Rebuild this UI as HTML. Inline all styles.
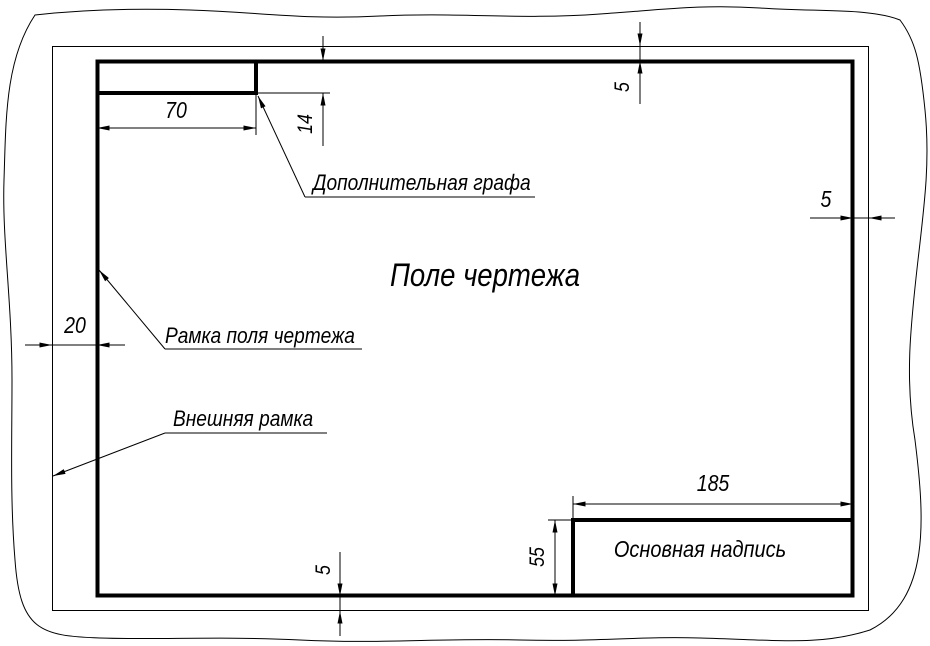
<!DOCTYPE html>
<html><head><meta charset="utf-8"><style>
html,body{margin:0;padding:0;background:#fff;}
svg{display:block;}
text{font-family:"Liberation Sans",sans-serif;font-style:italic;fill:#000;}
</style></head><body>
<svg width="930" height="646" viewBox="0 0 930 646" xmlns="http://www.w3.org/2000/svg">
<defs>
<marker id="a" viewBox="0 0 10 4" refX="10" refY="2" markerWidth="14" markerHeight="5" markerUnits="userSpaceOnUse" orient="auto-start-reverse">
<path d="M0,0 L10,2 L0,4 Z" fill="#000"/></marker>
</defs>
<path d="M35,15 C80,10 130,8 190,10 C260,12 300,20 380,16 C460,12 520,20 600,14 C660,10 700,4 760,8 C820,12 870,8 900,20 C915,40 920,60 925,110 C930,160 925,200 918,260 C910,330 905,380 915,440 C925,520 930,600 870,630 C820,646 780,640 700,638 C640,636 600,642 520,640 C440,638 380,644 300,640 C220,636 160,640 100,638 C40,636 20,630 15,560 C10,500 12,440 12,380 C12,300 2,240 4,180 C6,120 5,60 35,15 Z" fill="none" stroke="#000" stroke-width="1"/>
<rect x="52.5" y="46.5" width="816" height="564" fill="none" stroke="#000" stroke-width="1"/>
<rect x="97.5" y="61.5" width="755" height="534" fill="none" stroke="#000" stroke-width="4"/>
<path d="M97,93 H256 V61" fill="none" stroke="#000" stroke-width="4"/>
<path d="M573,596 V520 H853" fill="none" stroke="#000" stroke-width="4"/>

<g stroke="#000" stroke-width="1" fill="none">
<line x1="640" y1="22" x2="640" y2="104"/>
<line x1="640" y1="22" x2="640" y2="46" marker-end="url(#a)"/>
<line x1="640" y1="104" x2="640" y2="61" marker-end="url(#a)"/>
<line x1="256" y1="93" x2="330" y2="93"/>
<line x1="323" y1="36" x2="323" y2="61" marker-end="url(#a)"/>
<line x1="323" y1="146" x2="323" y2="93" marker-end="url(#a)"/>
<line x1="256" y1="93" x2="256" y2="135"/>
<line x1="97" y1="128" x2="256" y2="128" marker-start="url(#a)" marker-end="url(#a)"/>
<line x1="305" y1="197" x2="258" y2="96" marker-end="url(#a)"/>
<line x1="305" y1="197" x2="535" y2="197"/>
<line x1="165" y1="349" x2="99" y2="270" marker-end="url(#a)"/>
<line x1="165" y1="349" x2="362" y2="349"/>
<line x1="165" y1="433" x2="53" y2="476" marker-end="url(#a)"/>
<line x1="165" y1="433" x2="327" y2="433"/>
<line x1="25" y1="345" x2="52" y2="345" marker-end="url(#a)"/>
<line x1="52" y1="345" x2="97" y2="345"/>
<line x1="125" y1="345" x2="97" y2="345" marker-end="url(#a)"/>
<line x1="810" y1="218" x2="853" y2="218" marker-end="url(#a)"/>
<line x1="853" y1="218" x2="869" y2="218"/>
<line x1="895" y1="218" x2="869" y2="218" marker-end="url(#a)"/>
<line x1="340" y1="552" x2="340" y2="596" marker-end="url(#a)"/>
<line x1="340" y1="596" x2="340" y2="611"/>
<line x1="340" y1="636" x2="340" y2="611" marker-end="url(#a)"/>
<line x1="573" y1="496" x2="573" y2="520"/>
<line x1="573" y1="504" x2="853" y2="504" marker-start="url(#a)" marker-end="url(#a)"/>
<line x1="548" y1="520" x2="573" y2="520"/>
<line x1="555" y1="520" x2="555" y2="596" marker-start="url(#a)" marker-end="url(#a)"/>
</g>

<text x="0" y="0" font-size="23" text-anchor="middle" transform="translate(176,118) scale(0.85,1)">70</text>
<text x="0" y="0" font-size="21" text-anchor="middle" transform="translate(312,124) rotate(-90) scale(0.85,1)">14</text>
<text x="0" y="0" font-size="21" text-anchor="middle" transform="translate(629,87) rotate(-90) scale(0.85,1)">5</text>
<text x="0" y="0" font-size="21" text-anchor="middle" transform="translate(330,570) rotate(-90) scale(0.85,1)">5</text>
<text x="0" y="0" font-size="21" text-anchor="middle" transform="translate(544,557) rotate(-90) scale(0.85,1)">55</text>
<text x="0" y="0" font-size="23" text-anchor="middle" transform="translate(826,207) scale(0.85,1)">5</text>
<text x="0" y="0" font-size="23" text-anchor="middle" transform="translate(75,333) scale(0.85,1)">20</text>
<text x="0" y="0" font-size="23" text-anchor="middle" transform="translate(713,491) scale(0.85,1)">185</text>
<text x="0" y="0" font-size="22" transform="translate(313,190) scale(0.87,1)">Дополнительная графа</text>
<text x="0" y="0" font-size="22" transform="translate(165,343) scale(0.87,1)">Рамка поля чертежа</text>
<text x="0" y="0" font-size="22" transform="translate(173,426) scale(0.87,1)">Внешняя рамка</text>
<text x="0" y="0" font-size="32" text-anchor="middle" transform="translate(485,286) scale(0.86,1)">Поле чертежа</text>
<text x="0" y="0" font-size="23" text-anchor="middle" transform="translate(700,557) scale(0.87,1)">Основная надпись</text>
</svg>
</body></html>
